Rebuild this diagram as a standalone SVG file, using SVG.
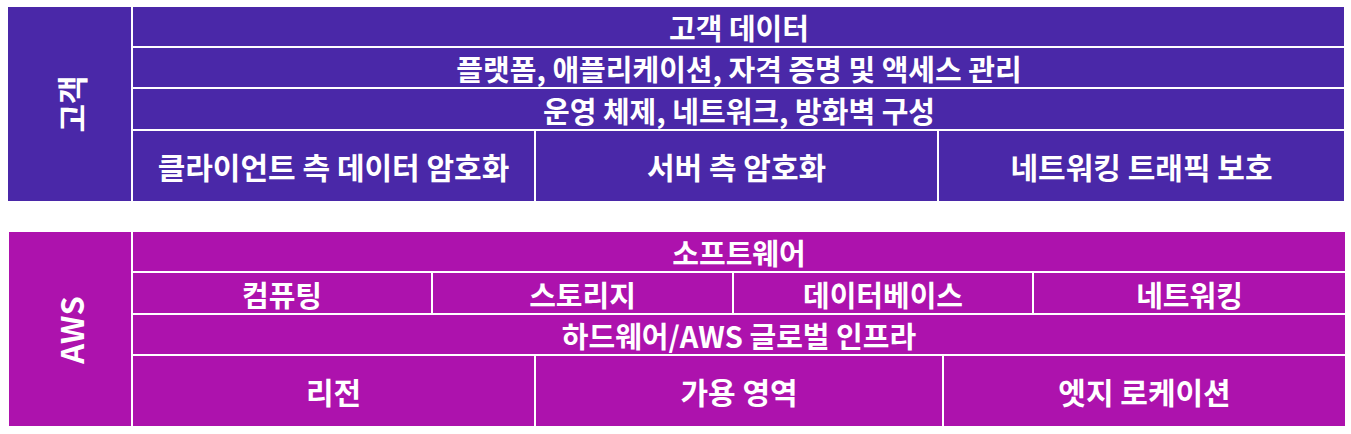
<svg xmlns="http://www.w3.org/2000/svg" width="1351" height="434" viewBox="0 0 1351 434">
<style>
.c{fill:#4a28a8}
.a{fill:#ad12ad}
text{fill:#ffffff;font-family:"Noto Sans CJK KR","Noto Sans",sans-serif;font-weight:bold;text-anchor:middle;dominant-baseline:central}
.s{font-size:29px}
.m{font-size:30px}
.v{font-size:31px}
</style>
<rect width="1351" height="434" fill="#ffffff"/>
<g id="customer">
<g id="customer-label"><rect class="c" x="8" y="7" width="123" height="194"/><text class="v" transform="translate(70,104) rotate(-90)">고객</text></g>
<g id="customer-data"><rect class="c" x="133" y="7" width="1211" height="39"/><text class="s" x="739" y="27">고객 데이터</text></g>
<g id="customer-platform"><rect class="c" x="133" y="48" width="1211" height="39"/><text class="s" x="739" y="68">플랫폼, 애플리케이션, 자격 증명 및 액세스 관리</text></g>
<g id="customer-os"><rect class="c" x="133" y="89" width="1211" height="40"/><text class="s" x="739" y="109.5">운영 체제, 네트워크, 방화벽 구성</text></g>
<g id="customer-client-enc"><rect class="c" x="133" y="131" width="401" height="70"/><text class="m" x="333.5" y="166">클라이언트 측 데이터 암호화</text></g>
<g id="customer-server-enc"><rect class="c" x="536" y="131" width="401" height="70"/><text class="m" x="736.5" y="166">서버 측 암호화</text></g>
<g id="customer-net"><rect class="c" x="939" y="131" width="405" height="70"/><text class="m" x="1141.5" y="166">네트워킹 트래픽 보호</text></g>
</g>
<g id="aws">
<g id="aws-label"><rect class="a" x="9" y="232" width="122" height="194"/><text class="v" transform="translate(70,330) rotate(-90)">AWS</text></g>
<g id="aws-software"><rect class="a" x="133" y="232" width="1212" height="39"/><text class="s" x="739" y="252">소프트웨어</text></g>
<g id="aws-compute"><rect class="a" x="133" y="273" width="298" height="40"/><text class="s" x="282" y="293.5">컴퓨팅</text></g>
<g id="aws-storage"><rect class="a" x="433" y="273" width="299" height="40"/><text class="s" x="582.5" y="293.5">스토리지</text></g>
<g id="aws-database"><rect class="a" x="734" y="273" width="298" height="40"/><text class="s" x="883" y="293.5">데이터베이스</text></g>
<g id="aws-networking"><rect class="a" x="1034" y="273" width="311" height="40"/><text class="s" x="1189.5" y="293.5">네트워킹</text></g>
<g id="aws-hardware"><rect class="a" x="133" y="315" width="1212" height="39"/><text class="s" x="739" y="335">하드웨어/AWS 글로벌 인프라</text></g>
<g id="aws-region"><rect class="a" x="133" y="356" width="401" height="70"/><text class="m" x="333.5" y="391">리전</text></g>
<g id="aws-az"><rect class="a" x="536" y="356" width="406" height="70"/><text class="m" x="739" y="391">가용 영역</text></g>
<g id="aws-edge"><rect class="a" x="944" y="356" width="401" height="70"/><text class="m" x="1144.5" y="391">엣지 로케이션</text></g>
</g>
<g id="connectors"/>
</svg>
